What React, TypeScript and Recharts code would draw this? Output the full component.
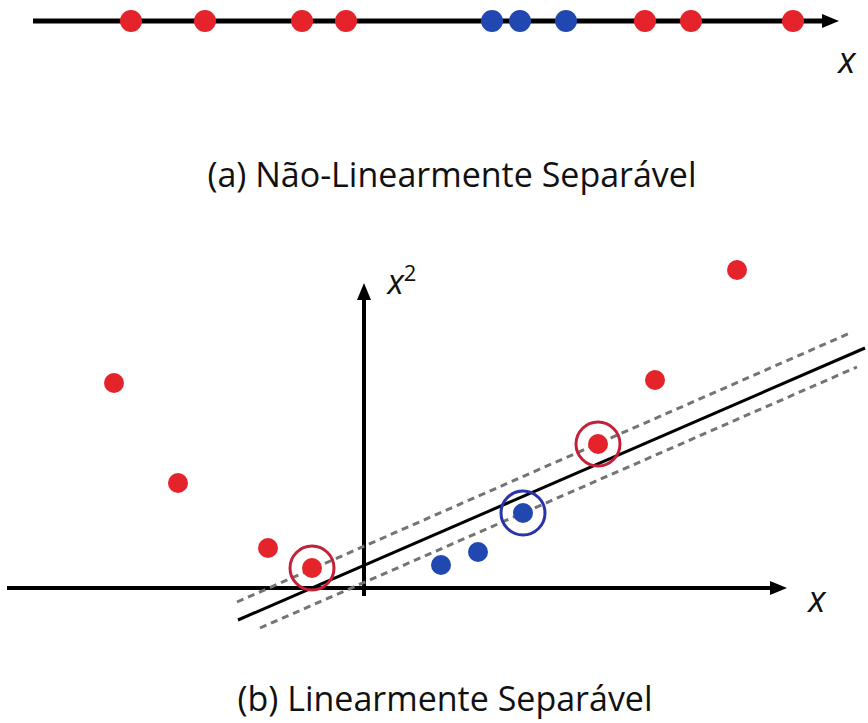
import { ScatterChart, Scatter, XAxis, YAxis, ReferenceLine } from 'recharts'

// panel (a): positions on the 1-D line
const topRedX = [-7.575, -5.725, -3.3, -2.2, 5.275, 6.425, 8.975]
const topBlueX = [1.45, 2.15, 3.3]

// panel (b): mapped points (x, x^2)
const redX = [-6.25, -4.65, -2.4, -1.3, 5.85, 7.275, 9.325]
const redY = [5.125, 2.625, 1.0, 0.5, 3.6, 5.2, 7.95]
const blueX = [1.925, 2.85, 3.975]
const blueY = [0.575, 0.9, 1.875]
const svRedX = [-1.3, 5.85]
const svRedY = [0.5, 3.6]
const svBlueX = [3.975]
const svBlueY = [1.875]

// separating line and margins: [start, end]
const hyperX = [-3.15, 12.525]
const hyperY = [-0.8, 6.0]
const upperX = [-3.175, 12.15]
const upperY = [-0.35, 6.375]
const lowerX = [-2.6, 12.325]
const lowerY = [-1.0, 5.525]

const RED = '#e5232b'
const BLUE = '#2148b0'

const zip = (xs: number[], ys: number[]) => xs.map((x, i) => ({ x, y: ys[i] }))

const dot = (color: string, r: number) => (p: any) => <circle cx={p.cx} cy={p.cy} r={r} fill={color} />
const ring = (color: string) => (p: any) => (
  <circle cx={p.cx} cy={p.cy} r={22} fill="none" stroke={color} strokeWidth={3} />
)
const arrowRight = (p: any) => (
  <polygon points={`${p.cx},${p.cy} ${p.cx - 17},${p.cy - 7} ${p.cx - 17},${p.cy + 7}`} fill="#000" />
)
const arrowUp = (p: any) => (
  <polygon points={`${p.cx},${p.cy} ${p.cx - 7},${p.cy + 17} ${p.cx + 7},${p.cy + 17}`} fill="#000" />
)

const label = (text: any, left: number, top: number, size: number, width: number) => (
  <div
    style={{
      position: 'absolute',
      left,
      top,
      width,
      textAlign: 'center',
      fontFamily: '"Open Sans", sans-serif',
      fontSize: size,
      lineHeight: 1,
      color: '#111',
      whiteSpace: 'nowrap',
    }}
  >
    {text}
  </div>
)

export default function App() {
  return (
    <div style={{ position: 'absolute', left: 0, top: 0, width: 868, height: 723, background: '#fff' }}>
      <div style={{ position: 'absolute', left: 0, top: 0 }}>
        <ScatterChart width={868} height={100} margin={{ top: 0, right: 0, bottom: 0, left: 0 }}>
          <XAxis type="number" dataKey="x" domain={[-10.85, 10.85]} allowDataOverflow hide />
          <YAxis type="number" dataKey="y" domain={[-0.79, 0.21]} allowDataOverflow hide />
          <ReferenceLine segment={[{ x: -10.025, y: 0 }, { x: 9.8, y: 0 }]} stroke="#000" strokeWidth={5} />
          <Scatter data={[{ x: 10.125, y: 0 }]} shape={arrowRight} isAnimationActive={false} />
          <Scatter data={topRedX.map((x) => ({ x, y: 0 }))} shape={dot(RED, 11)} isAnimationActive={false} />
          <Scatter data={topBlueX.map((x) => ({ x, y: 0 }))} shape={dot(BLUE, 11)} isAnimationActive={false} />
        </ScatterChart>
      </div>

      <div style={{ position: 'absolute', left: 0, top: 240 }}>
        <ScatterChart width={868} height={400} margin={{ top: 0, right: 0, bottom: 0, left: 0 }}>
          <XAxis type="number" dataKey="x" domain={[-9.1, 12.6]} allowDataOverflow hide />
          <YAxis type="number" dataKey="y" domain={[-1.3, 8.7]} allowDataOverflow hide />
          <ReferenceLine segment={[{ x: -8.925, y: 0 }, { x: 10.3, y: 0 }]} stroke="#000" strokeWidth={4} />
          <ReferenceLine segment={[{ x: 0, y: -0.2 }, { x: 0, y: 7.3 }]} stroke="#000" strokeWidth={4} />
          <ReferenceLine
            segment={zip(upperX, upperY) as any}
            stroke="#747474"
            strokeWidth={3}
            strokeDasharray="7 5"
          />
          <ReferenceLine
            segment={zip(lowerX, lowerY) as any}
            stroke="#747474"
            strokeWidth={3}
            strokeDasharray="7 5"
          />
          <ReferenceLine segment={zip(hyperX, hyperY) as any} stroke="#000" strokeWidth={3} />
          <Scatter data={[{ x: 10.575, y: 0 }]} shape={arrowRight} isAnimationActive={false} />
          <Scatter data={[{ x: 0, y: 7.625 }]} shape={arrowUp} isAnimationActive={false} />
          <Scatter data={zip(redX, redY)} shape={dot(RED, 10)} isAnimationActive={false} />
          <Scatter data={zip(blueX, blueY)} shape={dot(BLUE, 10)} isAnimationActive={false} />
          <Scatter data={zip(svRedX, svRedY)} shape={ring('#c4203a')} isAnimationActive={false} />
          <Scatter data={zip(svBlueX, svBlueY)} shape={ring('#2a34a8')} isAnimationActive={false} />
        </ScatterChart>
      </div>

      {label(<i>x</i>, 827, 42, 36, 40)}
      {label(<i>x</i>, 797, 581, 36, 40)}
      {label(
        <span>
          <i>x</i>
          <span style={{ fontSize: 22, verticalAlign: 13 }}>2</span>
        </span>,
        380,
        261,
        34,
        44
      )}
      {label('(a) Não-Linearmente Separável', 152, 157, 34, 600)}
      {label('(b) Linearmente Separável', 145, 681, 34, 600)}
    </div>
  )
}
